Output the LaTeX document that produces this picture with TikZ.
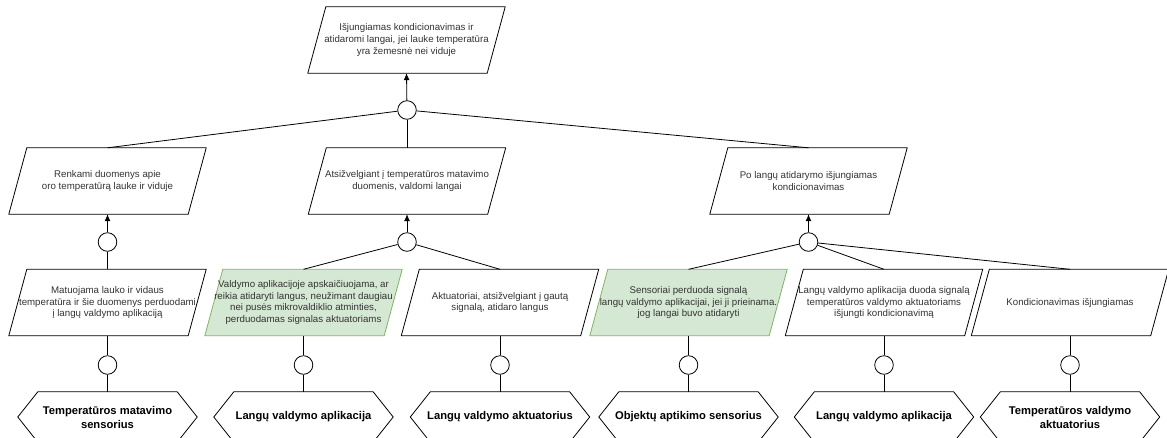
\documentclass[tikz,border=0pt]{standalone}
\usepackage{fontspec}
\setmainfont{Liberation Sans}
\usetikzlibrary{backgrounds,arrows.meta}
\definecolor{gfill}{HTML}{D5E8D4}
\definecolor{gline}{HTML}{82B366}
\definecolor{txt}{HTML}{333333}
\begin{document}
\begin{tikzpicture}[x=1pt,y=-1pt,
  box/.style={rectangle, minimum width=197pt, minimum height=66pt, inner sep=0pt, align=center, font=\fontsize{9.7}{11.6}\selectfont, text=txt},
  hexbox/.style={rectangle, minimum width=179pt, minimum height=50pt, inner sep=0pt, align=center, font=\fontsize{11.2}{14}\selectfont\bfseries, text=black},
  gate/.style={circle, draw, fill=white, minimum size=18.6pt, inner sep=0pt, line width=0.8pt},
  link/.style={draw, line width=0.8pt},
  arr/.style={link, -{Latex[length=7pt,width=6pt]}},
  paraw/.style={draw, fill=white, line width=0.8pt},
  parag/.style={draw=gline, fill=gfill, line width=0.8pt},
]
\useasboundingbox (0,0) rectangle (1167,437);

% top
\node[box] (T) at (406.5,40) {Išjungiamas kondicionavimas ir\\atidaromi langai, jei lauke temperatūra\\yra žemesnė nei viduje};
\node[gate] (C0) at (407,110) {};

% level 2
\node[box] (N1) at (107.5,181) {Renkami duomenys apie\\oro temperatūrą lauke ir viduje};
\node[box] (N2) at (407,181) {Atsižvelgiant į temperatūros matavimo\\duomenis, valdomi langai};
\node[box] (N3) at (808.5,181) {Po langų atidarymo išjungiamas\\kondicionavimas};
\node[gate] (C1) at (107.5,242) {};
\node[gate] (C2) at (407,242) {};
\node[gate] (C3) at (808.5,242) {};

% level 3
\node[box] (M1) at (107.5,302.5) {Matuojama lauko ir vidaus\\temperatūra ir šie duomenys perduodami\\į langų valdymo aplikaciją};
\node[box] (M2) at (303.5,302.5) {Valdymo aplikacijoje apskaičiuojama, ar\\reikia atidaryti langus, neužimant daugiau\\nei pusės mikrovaldiklio atminties,\\perduodamas signalas aktuatoriams};
\node[box] (M3) at (500,302.5) {Aktuatoriai, atsižvelgiant į gautą\\signalą, atidaro langus};
\node[box] (M4) at (688.5,302.5) {Sensoriai perduoda signalą\\langų valdymo aplikacijai, jei ji prieinama.\\jog langai buvo atidaryti};
\node[box] (M5) at (884,302.5) {Langų valdymo aplikacija duoda signalą\\temperatūros valdymo aktuatoriams\\išjungti kondicionavimą};
\node[box] (M6) at (1070,302.5) {Kondicionavimas išjungiamas};

\node[gate] (D1) at (107.5,365) {};
\node[gate] (D2) at (303.5,365) {};
\node[gate] (D3) at (500,365) {};
\node[gate] (D4) at (688.5,365) {};
\node[gate] (D5) at (884,365) {};
\node[gate] (D6) at (1070,365) {};

% resources
\node[hexbox] (H1) at (107.5,417) {Temperatūros matavimo\\sensorius};
\node[hexbox] (H2) at (303.5,417) {Langų valdymo aplikacija};
\node[hexbox] (H3) at (500,417) {Langų valdymo aktuatorius};
\node[hexbox] (H4) at (688.5,417) {Objektų aptikimo sensorius};
\node[hexbox] (H5) at (884,417) {Langų valdymo aplikacija};
\node[hexbox] (H6) at (1070,417) {Temperatūros valdymo\\aktuatorius};

\begin{scope}[on background layer]
\foreach \n in {T,N1,N2,N3,M1,M3,M5,M6}
  \path[paraw] (\n.south west) -- ([xshift=-18pt]\n.south east) -- (\n.north east) -- ([xshift=18pt]\n.north west) -- cycle;
\foreach \n in {M2,M4}
  \path[parag] (\n.south west) -- ([xshift=-18pt]\n.south east) -- (\n.north east) -- ([xshift=18pt]\n.north west) -- cycle;
\foreach \n in {H1,H2,H3,H4,H5,H6}
  \path[paraw] (\n.west) -- ([xshift=20pt]\n.north west) -- ([xshift=-20pt]\n.north east) -- (\n.east) -- ([xshift=-20pt]\n.south east) -- ([xshift=20pt]\n.south west) -- cycle;
\end{scope}

% connectors
\path[arr] (C0) -- (T.south);
\path[link] (C0) -- (N1.north);
\path[link] (C0) -- (N2.north);
\path[link] (C0) -- (N3.north);

\path[arr] (C1) -- (N1.south);
\path[link] (C1) -- (M1.north);
\path[arr] (C2) -- (N2.south);
\path[link] (C2) -- (M2.north);
\path[link] (C2) -- (M3.north);
\path[arr] (C3) -- (N3.south);
\path[link] (C3) -- (M4.north);
\path[link] (C3) -- (M5.north);
\path[link] (C3) -- (M6.north);

\foreach \i in {1,...,6} {
  \path[link] (M\i.south) -- (D\i);
  \path[link] (D\i) -- (H\i.north);
}
\end{tikzpicture}
\end{document}
